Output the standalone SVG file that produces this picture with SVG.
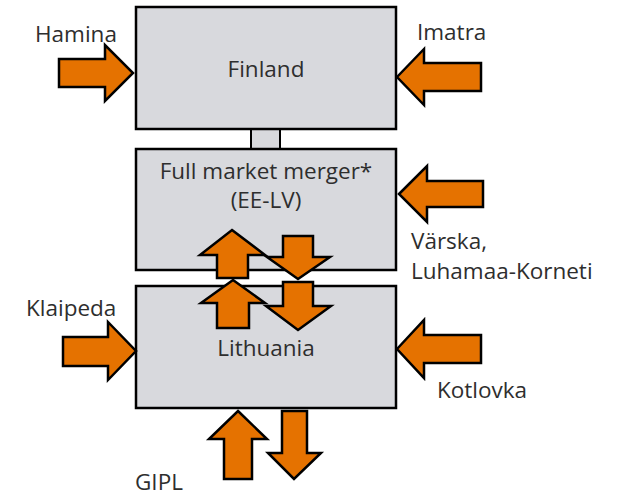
<svg xmlns="http://www.w3.org/2000/svg" width="618" height="497" viewBox="0 0 618 497">
<style>
.box{fill:#d8d9dd;stroke:#000;stroke-width:2.5}
.arr{fill:#e57200;stroke:#000;stroke-width:2.5;stroke-linejoin:miter}
text{font-family:"Open Sans","Noto Sans","Liberation Sans",sans-serif;font-size:22.5px;fill:#2e2e2e}
.c{text-anchor:middle}
</style>
<rect width="618" height="497" fill="#fff"/>
<g id="link">
<rect x="251" y="129" width="29" height="20" fill="#d8d9dd" stroke="#000" stroke-width="2"/>
</g>
<g id="finland">
<rect class="box" x="136" y="7" width="260" height="122"/>
<text class="c" x="266" y="77">Finland</text>
</g>
<g id="merger">
<rect class="box" x="136" y="149" width="260" height="121"/>
<text class="c" x="266" y="179">Full market merger*</text>
<text class="c" x="266" y="208">(EE-LV)</text>
</g>
<g id="lithuania">
<rect class="box" x="136" y="286" width="260" height="122"/>
<text class="c" x="266" y="356">Lithuania</text>
</g>
<g id="connectors">
<polygon class="arr" points="59,59 105,59 105,45 133,73 105,101 105,87 59,87"/>
<polygon class="arr" points="397,77 424,49 424,63 481,63 481,91 424,91 424,105"/>
<polygon class="arr" points="399,194 427,166 427,181 483,181 483,207 427,207 427,222"/>
<polygon class="arr" points="397,349 424,320 424,335 481,335 481,363 424,363 424,378"/>
<polygon class="arr" points="63,337 108,337 108,322 136,351 108,380 108,366 63,366"/>
<polygon class="arr" points="232,230 265,255 248,255 248,278 217,278 217,255 200,255"/>
<polygon class="arr" points="283,236 313,236 313,257 330,257 298,279 267,257 283,257"/>
<polygon class="arr" points="233,280 265,303 249,303 249,328 217,328 217,303 201,303"/>
<polygon class="arr" points="283,282 313,282 313,306 331,306 298,330 266,306 283,306"/>
<polygon class="arr" points="238,411 267,439 252,439 252,479 224,479 224,439 209,439"/>
<polygon class="arr" points="282,411 307,411 307,453 321,453 294,479 268,453 282,453"/>
<text x="35" y="42">Hamina</text>
<text x="417" y="40">Imatra</text>
<text x="411" y="249">Värska,</text>
<text x="411" y="279">Luhamaa-Korneti</text>
<text x="26" y="316">Klaipeda</text>
<text x="437" y="398">Kotlovka</text>
<text x="135" y="490">GIPL</text>
</g>
</svg>
